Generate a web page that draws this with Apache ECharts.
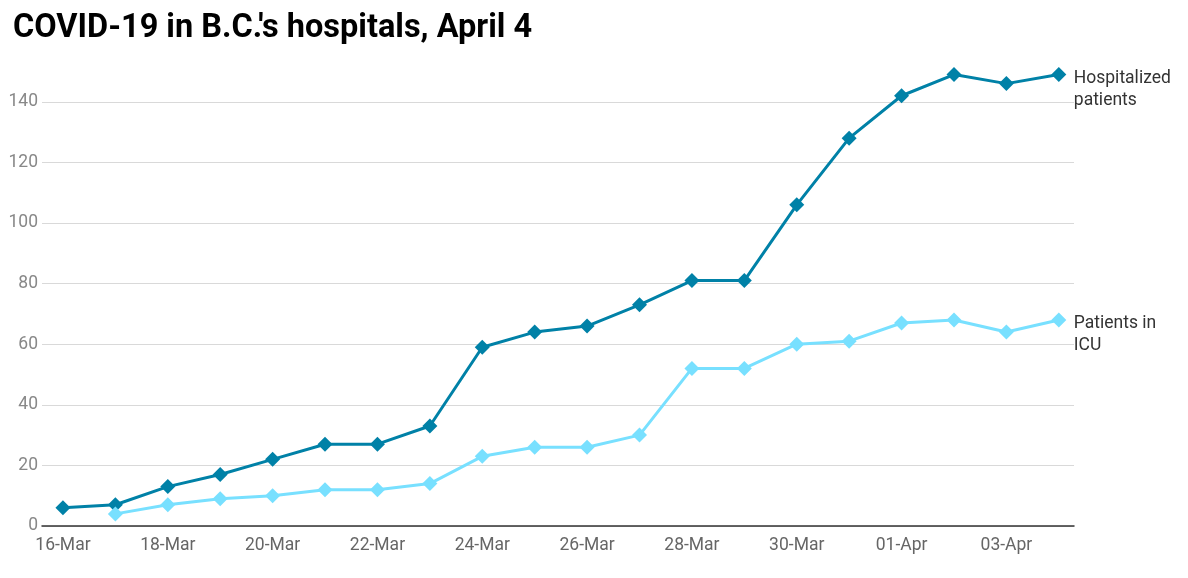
<!DOCTYPE html>
<html><head><meta charset="utf-8">
<script src="https://cdn.jsdelivr.net/npm/echarts@6/dist/echarts.min.js"></script>
<style>html,body{margin:0;padding:0;background:#fff}#c{width:1188px;height:578px}</style>
</head><body><div id="c"></div>
<script>
const dates = ['16-Mar','17-Mar','18-Mar','19-Mar','20-Mar','21-Mar','22-Mar','23-Mar','24-Mar','25-Mar','26-Mar','27-Mar','28-Mar','29-Mar','30-Mar','31-Mar','01-Apr','02-Apr','03-Apr','04-Apr'];
const hospitalized = [6,7,13,17,22,27,27,33,59,64,66,73,81,81,106,128,142,149,146,149];
const icu = [null,4,7,9,10,12,12,14,23,26,26,30,52,52,60,61,67,68,64,68];
const yTicks = [0,20,40,60,80,100,120,140];
const xLabelIdx = [0,2,4,6,8,10,12,14,16,18];

const toPts = arr => arr.map((v,i)=> v==null ? null : [i,v]).filter(p=>p);
const chart = echarts.init(document.getElementById('c'));
const font = 'Roboto, "Noto Sans", sans-serif';
function mk(name, data, color){
  return {
    name, type:'line', data: toPts(data), symbol:'diamond', symbolSize:15,
    lineStyle:{color, width:3}, itemStyle:{color}, z: 3,
    endLabel:{show:true, formatter: name==='Hospitalized patients' ? 'Hospitalized\npatients' : 'Patients in\nICU',
      color:'#333', fontSize:17.5, fontFamily:font, lineHeight:22, distance:15, align:'left', verticalAlign:'top', offset:[0,-7]},
    animation:false
  };
}
chart.setOption({
  animation:false,
  title:{text:"COVID-19 in B.C.'s hospitals, April 4", left:8, top:7,
    textStyle:{fontFamily:font, fontSize:32.5, fontWeight:'bold', color:'#000'}},
  grid:{left:42, right:114, top:71.5, bottom:52},
  xAxis:{type:'value', min:-0.4, max:19.29,
    axisLine:{show:true, onZero:false, lineStyle:{color:'#333', width:1.5}},
    axisTick:{show:false}, splitLine:{show:false},
    axisLabel:{customValues:xLabelIdx, formatter:v=>dates[v], color:'#666', fontSize:17.5, fontFamily:font, margin:11}},
  yAxis:{type:'value', min:0, max:150, interval:20,
    axisLine:{show:false}, axisTick:{show:false},
    splitLine:{show:true, showMaxLine:false, lineStyle:{color:'#d9d9d9', width:1}},
    axisLabel:{customValues:yTicks, color:'#888', fontSize:17.5, fontFamily:font, margin:4}},
  series:[ mk('Hospitalized patients', hospitalized, '#0081a7'), mk('Patients in ICU', icu, '#78e0ff') ]
});
</script></body></html>
